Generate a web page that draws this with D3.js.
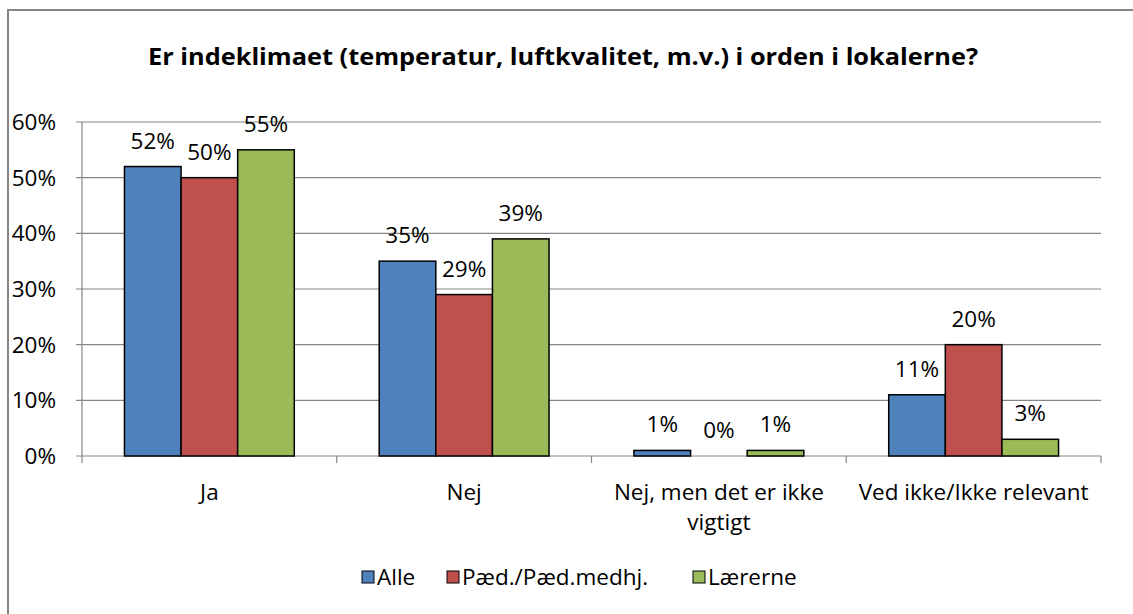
<!DOCTYPE html>
<html><head><meta charset="utf-8">
<script src="https://cdn.jsdelivr.net/npm/d3@7"></script>
<style>body{margin:0;background:#fff}svg{display:block}</style>
</head><body>
<svg id="c" width="1133" height="614"></svg>
<script>
const categories = [["Ja"], ["Nej"], ["Nej, men det er ikke", "vigtigt"], ["Ved ikke/Ikke relevant"]];
const seriesNames = ["Alle", "Pæd./Pæd.medhj.", "Lærerne"];
const alle = [52, 35, 1, 11];
const paed = [50, 29, 0, 20];
const laererne = [55, 39, 1, 3];
const yTicks = [0, 10, 20, 30, 40, 50, 60];
const colors = ["#4f81bd", "#c0504d", "#9bbb59"];
const title = "Er indeklimaet (temperatur, luftkvalitet, m.v.) i orden i lokalerne?";

(function(){
const series = [alle, paed, laererne];
const svg = d3.select("#c");
const font = "'Open Sans', Lato, sans-serif";
const fs = 22.5;

svg.append("rect").attr("x", 8).attr("y", 10).attr("width", 1140).attr("height", 620)
  .attr("fill", "#fff").attr("stroke", "#868686").attr("stroke-width", 2);

svg.append("text").attr("x", 563).attr("y", 65).attr("text-anchor", "middle")
  .attr("font-family", font).attr("font-weight", "bold").attr("font-size", 24)
  .attr("textLength", 830).attr("lengthAdjust", "spacingAndGlyphs")
  .text(title);

const pl = 82, pr = 1101, pt = 122, pb = 456;
const y = d3.scaleLinear().domain([0, 60]).range([pb, pt]);
const x0 = d3.scaleBand().domain(d3.range(categories.length)).range([pl, pr]).paddingInner(0).paddingOuter(0);
const bw = x0.bandwidth();
const x1 = d3.scaleBand().domain(d3.range(3)).range([0, bw]).paddingInner(0).paddingOuter(0.75);

svg.append("g").selectAll("line").data(yTicks).join("line")
  .attr("x1", pl - 6).attr("x2", pr).attr("y1", d => y(d)).attr("y2", d => y(d))
  .attr("stroke", "#868686").attr("stroke-width", 1.2);
svg.append("line").attr("x1", pl).attr("x2", pl).attr("y1", pt).attr("y2", pb)
  .attr("stroke", "#868686").attr("stroke-width", 1.2);
svg.append("g").selectAll("text").data(yTicks).join("text")
  .attr("x", pl - 26).attr("y", d => y(d) + 8).attr("text-anchor", "end")
  .attr("font-family", font).attr("font-size", fs).attr("fill", "#000")
  .text(d => d + "%");
svg.append("g").selectAll("line").data(d3.range(categories.length + 1)).join("line")
  .attr("x1", i => pl + i * bw).attr("x2", i => pl + i * bw)
  .attr("y1", pb).attr("y2", pb + 7)
  .attr("stroke", "#868686").attr("stroke-width", 1.2);

series.forEach((vals, s) => {
  const g = svg.append("g");
  g.selectAll("rect").data(vals).join("rect")
    .attr("x", (d, i) => x0(i) + x1(s)).attr("width", x1.bandwidth())
    .attr("y", d => y(d)).attr("height", d => pb - y(d))
    .attr("fill", colors[s]).attr("stroke", "#000").attr("stroke-width", 1.5);
  g.selectAll("text").data(vals).join("text")
    .attr("x", (d, i) => x0(i) + x1(s) + x1.bandwidth() / 2)
    .attr("y", d => y(d) - 18).attr("text-anchor", "middle")
    .attr("font-family", font).attr("font-size", fs).attr("fill", "#000")
    .text(d => d + "%");
});

const cl = svg.append("g");
categories.forEach((lines, i) => {
  const t = cl.append("text").attr("x", x0(i) + bw / 2).attr("y", 500).attr("text-anchor", "middle")
    .attr("font-family", font).attr("font-size", fs).attr("fill", "#000");
  lines.forEach((l, k) => t.append("tspan").attr("x", x0(i) + bw / 2).attr("dy", k ? 30 : 0).text(l));
});

const legX = [362, 447, 693];
const lg = svg.append("g");
seriesNames.forEach((n, i) => {
  lg.append("rect").attr("x", legX[i]).attr("y", 571).attr("width", 12).attr("height", 12)
    .attr("fill", colors[i]).attr("stroke", "#000").attr("stroke-width", 1);
  lg.append("text").attr("x", legX[i] + 15).attr("y", 585)
    .attr("font-family", font).attr("font-size", fs).attr("fill", "#000").text(n);
});
})();
</script>
</body></html>
